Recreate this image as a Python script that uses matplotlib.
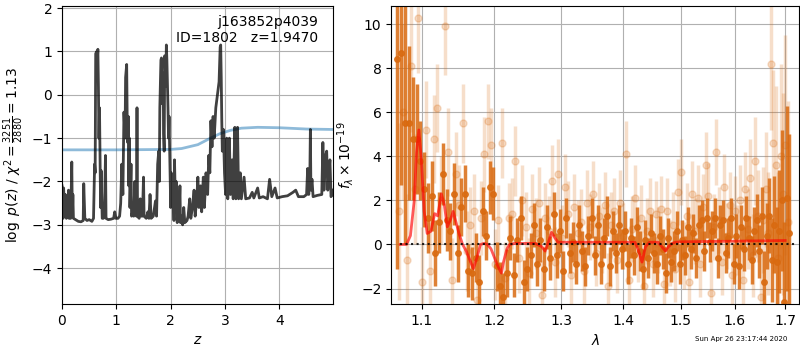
import matplotlib
matplotlib.use('Agg')
import matplotlib.pyplot as plt
import numpy as np
from matplotlib.ticker import FixedLocator, NullLocator, FixedFormatter

# ---- p(z) curve ---------------------------------------------------------
z_grid = [0.00, 0.02, 0.03, 0.05, 0.06, 0.08, 0.10, 0.12, 0.13, 0.16, 0.18, 0.19,
          0.20, 0.21, 0.25, 0.30, 0.35, 0.39, 0.40, 0.42, 0.46, 0.50, 0.55, 0.58,
          0.60, 0.61, 0.62, 0.64, 0.65, 0.66, 0.67, 0.68, 0.69, 0.70, 0.71, 0.72,
          0.74, 0.76, 0.78, 0.80, 0.81, 0.85, 0.90, 0.95, 0.97, 0.99, 1.03, 1.06,
          1.08, 1.10, 1.12, 1.14, 1.16, 1.17, 1.19, 1.20, 1.21, 1.22, 1.23, 1.24,
          1.25, 1.27, 1.28, 1.30, 1.32, 1.34, 1.35, 1.37, 1.38, 1.39, 1.42, 1.44,
          1.46, 1.48, 1.50, 1.51, 1.55, 1.58, 1.60, 1.62, 1.64, 1.68, 1.72, 1.74,
          1.76, 1.78, 1.79, 1.80, 1.82, 1.83, 1.84, 1.86, 1.87, 1.88, 1.89, 1.91,
          1.92, 1.93, 1.95, 1.96, 1.97, 1.99, 2.00, 2.01, 2.03, 2.04, 2.06, 2.07,
          2.09, 2.10, 2.12, 2.13, 2.15, 2.17, 2.18, 2.20, 2.22, 2.24, 2.26, 2.30,
          2.32, 2.35, 2.37, 2.40, 2.43, 2.45, 2.48, 2.50, 2.52, 2.55, 2.57, 2.60,
          2.62, 2.65, 2.68, 2.70, 2.72, 2.74, 2.76, 2.78, 2.80, 2.83, 2.85, 2.87,
          2.89, 2.91, 2.92, 2.93, 2.94, 2.95, 2.97, 2.99, 3.01, 3.03, 3.05, 3.08,
          3.10, 3.13, 3.15, 3.18, 3.20, 3.23, 3.25, 3.28, 3.30, 3.35, 3.38, 3.45,
          3.50, 3.53, 3.60, 3.63, 3.70, 3.78, 3.82, 3.86, 3.92, 3.96, 4.05, 4.15,
          4.25, 4.30, 4.35, 4.45, 4.50, 4.52, 4.54, 4.56, 4.57, 4.58, 4.60, 4.62,
          4.70, 4.78, 4.80, 4.82, 4.85, 4.87, 4.89, 4.91, 4.93, 4.95, 4.97, 4.99]
log_pz = [-2.10, -2.85, -2.15, -2.80, -2.30, -2.85, -2.82, -2.20, -2.85, -2.85, -1.55, -2.80,
          -2.30, -2.85, -2.88, -2.92, -2.93, -2.90, -2.05, -2.85, -2.90, -2.88, -2.92, -2.85,
          -1.60, -1.80, 0.95, 1.00, 0.80, 1.05, 0.20, -1.00, -0.30, -1.40, -2.60, -1.75,
          -2.85, -2.85, -2.80, -1.40, -2.85, -2.88, -2.87, -2.85, -2.70, -2.85, -2.85, -2.80,
          -2.50, -1.60, -2.30, -0.40, -1.00, 0.40, 0.70, -0.60, -1.10, -0.50, -2.10, -1.00,
          -2.60, -1.60, -2.80, -2.70, -2.80, -2.00, -2.60, -2.80, -0.30, -2.80, -2.85, -2.40,
          -2.80, -2.80, -1.90, -2.80, -2.85, -2.70, -2.85, -2.30, -2.85, -2.80, -2.45, -2.80,
          -1.60, -1.30, -2.00, -0.30, 0.80, 0.85, -0.20, 0.50, -0.90, -1.30, 0.90, 0.20,
          1.15, 0.80, -0.30, -1.00, -0.50, -1.90, -2.60, -1.80, -2.30, -1.90, -2.90, -1.50,
          -2.70, -2.00, -2.95, -2.50, -2.90, -2.10, -2.95, -2.80, -3.00, -2.60, -2.95, -2.90,
          -2.80, -2.40, -2.85, -2.60, -2.20, -2.80, -2.40, -1.90, -2.60, -2.10, -2.70, -1.90,
          -2.60, -1.80, -2.30, -1.40, -1.80, -0.60, -1.20, -0.50, -1.00, -0.30, -0.10, 0.10,
          0.30, 1.10, 1.15, 0.40, -0.60, -1.30, -0.80, -1.80, -2.30, -1.00, -2.40, -1.00,
          -2.30, -1.50, -2.40, -0.75, -2.40, -0.75, -2.40, -1.80, -2.40, -1.90, -2.40, -2.38,
          -2.25, -2.38, -2.15, -2.38, -2.35, -2.40, -1.95, -2.35, -2.15, -2.38, -2.35, -2.33,
          -2.25, -2.20, -2.35, -2.35, -2.30, -1.70, -2.30, -1.90, -0.80, -2.20, -1.95, -2.35,
          -2.32, -2.30, -1.10, -2.20, -1.40, -1.30, -2.20, -1.80, -1.50, -2.35, -2.30, -2.20]

# prior curve
z_prior = [0.0, 1.0, 2.0, 2.2, 2.5, 2.7, 2.9, 3.1, 3.3, 3.6, 4.0, 4.5, 5.0]
log_prior = [-1.27, -1.27, -1.26, -1.24, -1.15, -1.02, -0.90, -0.82, -0.77, -0.75, -0.76, -0.79, -0.80]

# ---- spectrum: two beams --------------------------------------------------
wave_a = np.arange(129) * 0.005 + 1.068
flux_a = [8.4, 8.7, 5.5, 5.5, 4.8, 4.8, 3.8, 2.5, 1.2, 2.2,
          -0.4, 1.0, 3.2, 1.1, 0.6, 2.3, -0.4, 1.7, 2.3, -1.2,
          -1.3, -0.6, -1.7, 1.5, 0.4, 2.6, 2.3, -1.0, -1.9, -2.4,
          -1.3, 0.3, -1.4, 0.2, 1.2, -1.7, -1.1, -0.5, 0.9, -0.9,
          0.2, -1.1, 0.8, -0.6, 1.4, -0.5, 0.6, -1.2, 1.2, -0.4,
          0.1, -0.9, 0.9, -0.3, -1.0, 0.4, 1.2, -0.5, 0.9, -0.9,
          0.3, 1.3, -1.0, 0.6, -0.4, 0.9, -0.2, 0.6, -0.9, 0.3,
          -0.5, 0.8, -0.3, -1.1, 0.2, -0.6, 0.5, -0.4, -0.9, 0.4,
          -0.2, -1.3, 0.3, -0.8, -0.3, 0.6, -0.9, 0.2, -0.5, 0.8,
          -0.2, 0.5, -0.6, 0.9, 1.1, -0.3, 1.2, 0.1, 0.6, 1.2,
          -0.6, 0.9, 1.1, -0.4, 0.3, 1.2, -0.9, 0.4, -1.0, 0.8,
          -0.2, 1.2, 0.3, -0.7, 0.6, 1.1, -0.3, 1.3, -1.7, 0.4,
          1.3, -0.7, 0.9, -0.8, 0.6, 2.0, -2.6, 2.1, 0.5]
err_a = [9.5, 6.0, 5.5, 3.5, 2.8, 2.5, 1.8, 1.7, 1.6, 1.6,
         1.5, 1.4, 1.4, 1.4, 1.3, 1.4, 1.3, 1.3, 1.3, 1.2,
         1.2, 1.1, 1.2, 1.1, 1.1, 1.2, 1.2, 1.1, 1.1, 1.1,
         1.1, 1.0, 1.0, 1.0, 1.0, 1.0, 1.0, 1.0, 1.0, 1.0,
         1.0, 1.0, 1.0, 1.0, 1.0, 1.0, 1.0, 0.9, 0.9, 0.9,
         0.9, 0.9, 0.9, 0.9, 0.9, 0.9, 0.9, 0.9, 0.9, 0.9,
         0.9, 0.9, 0.9, 0.9, 0.9, 0.9, 0.9, 0.9, 0.9, 0.9,
         0.9, 0.9, 0.9, 0.9, 0.9, 0.9, 0.9, 0.9, 0.9, 0.9,
         0.9, 0.9, 0.9, 0.9, 0.9, 0.9, 0.9, 0.9, 0.9, 0.9,
         0.9, 0.9, 0.9, 0.9, 0.9, 0.9, 0.9, 0.9, 0.9, 0.9,
         0.9, 0.9, 0.9, 0.9, 0.9, 0.9, 0.9, 1.0, 1.0, 1.0,
         1.0, 1.0, 1.0, 1.1, 1.1, 1.2, 1.2, 1.3, 1.4, 1.5,
         1.7, 1.9, 2.2, 2.5, 2.8, 3.2, 3.6, 4.2, 4.5]

wave_b = np.arange(128) * 0.005 + 1.0705
flux_b = [1.5, 6.0, -0.7, 8.1, 2.5, 10.3, -1.7, 5.2, -1.2, 4.8,
          6.2, 2.0, 9.9, 4.2, -1.6, 3.2, 1.8, 5.5, -0.3, 0.9,
          1.5, -2.5, 1.2, 4.1, 5.6, 4.5, -0.9, 1.1, 4.6, -1.5,
          1.2, 1.4, 3.8, -0.6, 2.0, 0.8, -1.3, 1.6, 0.5, 1.9,
          -2.3, 1.2, 0.6, 2.9, -0.8, 3.2, 0.3, 2.6, 1.4, -1.4,
          1.7, 0.5, 1.0, -1.2, 1.9, 0.8, 2.3, -0.4, 1.3, 0.2,
          1.8, -1.9, 0.9, 1.5, -0.7, 1.9, 0.4, 4.1, -1.6, 0.7,
          2.1, -0.2, 1.2, -1.9, 0.6, 1.5, -0.9, 1.4, 0.2, 1.6,
          -1.8, 1.5, -0.4, 0.9, -1.1, 2.4, 3.3, -0.5, 1.3, -1.7,
          2.3, 0.6, 2.1, -0.9, 1.7, 3.6, 2.2, -2.2, 0.8, 4.2,
          1.1, -0.8, 2.6, 0.4, 1.8, -1.4, 1.5, 0.2, 2.0, -1.6,
          2.5, 0.7, 3.0, -0.5, 3.8, 1.3, -2.4, 1.1, 2.5, 0.5,
          8.2, 4.6, 3.6, -0.6, 4.0, 2.3, 4.5, 1.0]
err_b = [4.0, 4.0, 3.0, 3.0, 2.5, 2.5, 2.5, 2.2, 2.2, 2.0,
         2.0, 2.0, 2.2, 2.0, 1.9, 1.9, 1.8, 1.8, 1.8, 1.7,
         1.7, 1.7, 1.7, 1.7, 1.7, 1.7, 1.6, 1.6, 1.6, 1.6,
         1.6, 1.6, 1.6, 1.6, 1.6, 1.6, 1.6, 1.6, 1.6, 1.6,
         1.6, 1.6, 1.6, 1.6, 1.6, 1.6, 1.5, 1.5, 1.5, 1.5,
         1.5, 1.5, 1.5, 1.5, 1.5, 1.5, 1.5, 1.5, 1.5, 1.5,
         1.5, 1.5, 1.5, 1.5, 1.5, 1.5, 1.5, 1.5, 1.5, 1.5,
         1.5, 1.5, 1.5, 1.5, 1.5, 1.5, 1.5, 1.5, 1.5, 1.5,
         1.5, 1.5, 1.5, 1.5, 1.5, 1.5, 1.5, 1.5, 1.5, 1.5,
         1.5, 1.5, 1.5, 1.5, 1.5, 1.5, 1.5, 1.5, 1.5, 1.5,
         1.5, 1.5, 1.5, 1.5, 1.5, 1.6, 1.6, 1.6, 1.6, 1.7,
         1.7, 1.8, 1.8, 1.9, 2.0, 2.1, 2.2, 2.4, 2.6, 2.8,
         3.0, 3.3, 3.6, 3.9, 4.2, 4.6, 5.0, 5.5]

# best-fit model
wave_m = [1.072, 1.080, 1.085, 1.090, 1.093, 1.096, 1.099, 1.103, 1.107, 1.112,
          1.117, 1.121, 1.126, 1.130, 1.134, 1.138, 1.142, 1.146, 1.150, 1.155,
          1.160, 1.165, 1.170, 1.175, 1.180, 1.185, 1.190, 1.195, 1.200, 1.205,
          1.210, 1.213, 1.218, 1.222, 1.230, 1.260, 1.270, 1.275, 1.280, 1.285,
          1.290, 1.295, 1.300, 1.420, 1.425, 1.432, 1.438, 1.445, 1.460, 1.468,
          1.473, 1.478, 1.485, 1.490, 1.500, 1.600, 1.700]
flux_m = [0.0, 0.0, 0.4, 2.0, 4.2, 5.2, 4.0, 1.5, 0.5, 0.6,
          1.4, 1.3, 2.3, 1.8, 0.8, 1.1, 1.5, 1.0, 0.5, 0.0,
          -0.3, -0.7, -1.1, -0.6, 0.0, 0.05, 0.0, -0.2, -0.6, -1.0,
          -1.3, -0.8, -0.2, 0.0, 0.05, 0.05, -0.1, -0.3, 0.1, 0.55,
          0.3, 0.1, 0.1, 0.1, -0.2, -0.8, -0.1, 0.1, 0.1, -0.15,
          -0.3, -0.1, 0.05, 0.1, 0.12, 0.15, 0.18]

chi2_label = r'$\log\ p(z)$ / $\chi^2=\frac{3251}{2880}=1.13$'
orange = '#d96a10'

fig = plt.figure(figsize=(8, 3.5), dpi=100)
axL = fig.add_axes([0.0775, 0.131, 0.339, 0.852])
axR = fig.add_axes([0.489, 0.131, 0.510, 0.852])

# ---- left: p(z) ----
axL.plot(z_prior, log_prior, color='tab:blue', alpha=0.5, lw=2)
axL.plot(z_grid, log_pz, color='k', alpha=0.75, lw=2)
axL.set_xlim(0, 4.99)
axL.set_ylim(-4.83, 2.05)
axL.set_xticks([0, 1, 2, 3, 4])
axL.set_yticks([-4, -3, -2, -1, 0, 1, 2])
axL.grid()
axL.set_xlabel(r'$z$')
axL.set_ylabel(chi2_label)
axL.text(0.945, 0.97, 'j163852p4039\nID=1802   z=1.9470',
         transform=axL.transAxes, ha='right', va='top', fontsize=10)

# ---- right: spectrum ----
axR.errorbar(wave_b, flux_b, yerr=err_b, color=orange, marker='o', ms=5,
             linestyle='none', elinewidth=2.5, alpha=0.22)
axR.errorbar(wave_a, flux_a, yerr=err_a, color=orange, marker='o', ms=4,
             linestyle='none', elinewidth=2.5, alpha=0.85)
axR.plot(wave_m, flux_m, color='r', lw=2, alpha=0.65, zorder=5)
axR.plot([1.072, 1.72], [0, 0], 'k:', lw=1.5, alpha=0.85, zorder=6)

axR.set_xscale('log')
axR.set_xlim(1.0603, 1.7288)
axR.set_ylim(-2.71, 10.83)
wticks = [1.1, 1.2, 1.3, 1.4, 1.5, 1.6, 1.7]
axR.xaxis.set_major_locator(FixedLocator(wticks))
axR.xaxis.set_major_formatter(FixedFormatter([f'{w:.1f}' for w in wticks]))
axR.xaxis.set_minor_locator(NullLocator())
axR.set_yticks([-2, 0, 2, 4, 6, 8, 10])
axR.grid()
axR.set_xlabel(r'$\lambda$')
axR.set_ylabel(r'$f_\lambda \times 10^{-19}$')

fig.text(0.984, 0.022, 'Sun Apr 26 23:17:44 2020', ha='right', va='bottom', fontsize=5)

fig.savefig('out.png', dpi=100)
